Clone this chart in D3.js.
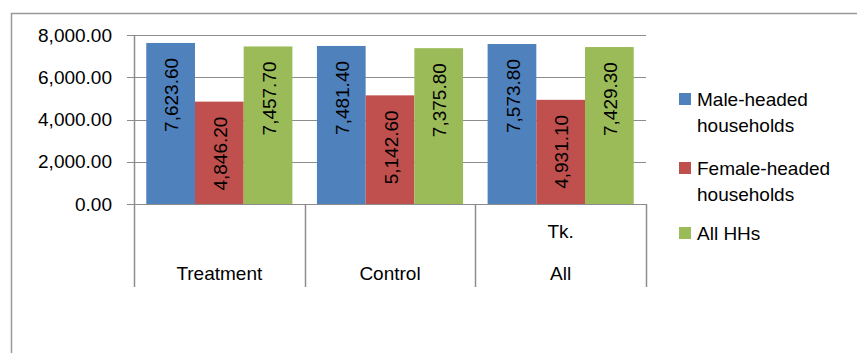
<!DOCTYPE html>
<html lang="en">
<head>
<meta charset="utf-8">
<title>Households chart</title>
<script src="https://d3js.org/d3.v7.js"></script>
<style>
  body { margin: 0; background: #fff; }
  svg text { font-family: "Liberation Sans", Arial, sans-serif; fill: #000; }
</style>
</head>
<body>
<div id="chart"></div>
<script>
// data
const categories = ["Treatment", "Control", "All"];
const catLines = [["Treatment"], ["Control"], ["Tk.", "All"]];
const seriesNames = ["Male-headed households", "Female-headed households", "All HHs"];
const legendLines = [["Male-headed", "households"], ["Female-headed", "households"], ["All HHs"]];
const maleValues = [7623.60, 7481.40, 7573.80];
const femaleValues = [4846.20, 5142.60, 4931.10];
const allValues = [7457.70, 7375.80, 7429.30];
const yTicks = [0, 2000, 4000, 6000, 8000];
const colors = ["#4F81BD", "#C0504D", "#9BBB59"];

const W = 857, H = 353;
const plot = {left: 134, right: 646, top: 35, bottom: 204};
const catBottom = 287;
const fs = 19;

const seriesValues = [maleValues, femaleValues, allValues];
const rows = categories.map((c, i) => ({cat: c, vals: seriesValues.map(s => s[i])}));

const svg = d3.select("#chart").append("svg")
  .attr("width", W).attr("height", H);

// outer frame
svg.append("path")
  .attr("d", `M11.5,${H + 2}V13.5H${W + 2}`)
  .attr("fill", "none").attr("stroke", "#999").attr("stroke-width", 1.5);

const x = d3.scaleBand().domain(categories).range([plot.left, plot.right]).padding(0);
const x1 = d3.scaleBand().domain(seriesNames).range([0, x.bandwidth()])
  .paddingInner(0).paddingOuter(0.252);
const y = d3.scaleLinear().domain([0, 8000]).range([plot.bottom, plot.top]);

// gridlines
svg.append("g").selectAll("line").data(yTicks).join("line")
  .attr("x1", plot.left - 7).attr("x2", plot.right)
  .attr("y1", d => Math.round(y(d)) + 0.5).attr("y2", d => Math.round(y(d)) + 0.5)
  .attr("stroke", "#8c8c8c").attr("stroke-width", 1.2);

// y labels
svg.append("g").selectAll("text").data(yTicks).join("text")
  .attr("x", 112).attr("y", d => y(d)).attr("dy", "0.35em")
  .attr("text-anchor", "end").style("font-size", fs + "px")
  .text(d => d3.format(",.2f")(d));

// category separators
const seps = categories.map(c => x(c)).concat([plot.right]);
svg.append("g").selectAll("line").data(seps).join("line")
  .attr("x1", d => Math.round(d) + 0.5).attr("x2", d => Math.round(d) + 0.5)
  .attr("y1", (d, i) => i === 0 ? plot.top : plot.bottom).attr("y2", catBottom)
  .attr("stroke", "#8c8c8c").attr("stroke-width", 1.5);

// bars
const groups = svg.append("g").selectAll("g").data(rows).join("g")
  .attr("transform", d => `translate(${x(d.cat)},0)`);

groups.selectAll("rect").data(d => d.vals.map((v, i) => ({s: seriesNames[i], v, i}))).join("rect")
  .attr("x", d => x1(d.s)).attr("width", x1.bandwidth())
  .attr("y", d => y(d.v)).attr("height", d => y(0) - y(d.v))
  .attr("fill", d => colors[d.i]);

groups.selectAll("text").data(d => d.vals.map((v, i) => ({s: seriesNames[i], v, i}))).join("text")
  .attr("transform", d => `translate(${x1(d.s) + x1.bandwidth() / 2 + 1},${y(d.v) + 15}) rotate(-90)`)
  .attr("text-anchor", "end").attr("dy", "0.35em")
  .style("font-size", fs + "px")
  .text(d => d3.format(",.2f")(d.v));

// category labels
const catG = svg.append("g").selectAll("text").data(categories).join("text")
  .attr("text-anchor", "middle").style("font-size", fs + "px");
catG.each(function(d, i) {
  const lines = catLines[i];
  d3.select(this).selectAll("tspan").data(lines).join("tspan")
    .attr("x", x(d) + x.bandwidth() / 2)
    .attr("y", (l, j) => 280 - (lines.length - 1 - j) * 42)
    .text(l => l);
});

// legend
const legY = [93, 162, 227];
const leg = svg.append("g").selectAll("g").data(seriesNames).join("g")
  .attr("transform", (d, i) => `translate(679,${legY[i]})`);
leg.append("rect").attr("width", 12).attr("height", 12)
  .attr("fill", (d, i) => colors[i]);
leg.append("text").style("font-size", fs + "px")
  .each(function(d, i) {
    d3.select(this).selectAll("tspan").data(legendLines[i]).join("tspan")
      .attr("x", 18).attr("y", (l, j) => 12.5 + j * 26)
      .text(l => l);
  });
</script>
</body>
</html>
